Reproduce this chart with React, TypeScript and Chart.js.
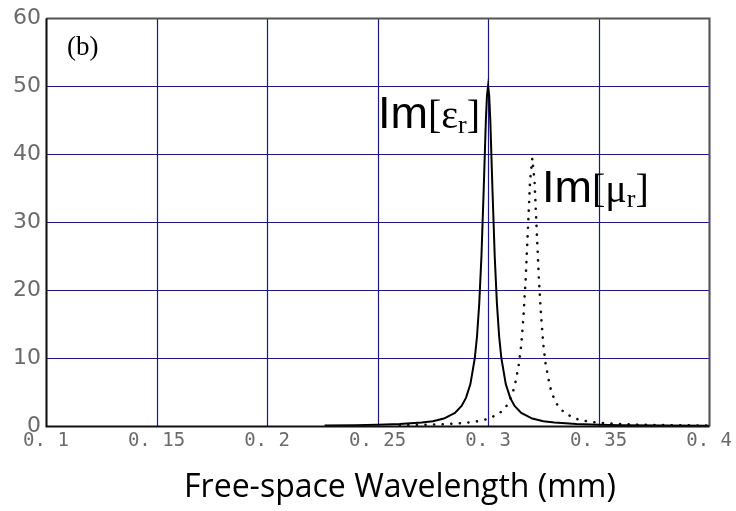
import React, { useEffect, useRef } from "react";
import { Chart, registerables } from "chart.js";

Chart.register(...registerables);

// Wavelength (mm) and Im[eps_r] for the solid curve
const epsX = [0.226, 0.24, 0.25, 0.26, 0.27, 0.275, 0.28, 0.285, 0.288, 0.29, 0.292, 0.294, 0.295, 0.296, 0.297, 0.298, 0.299, 0.2995, 0.3, 0.3005, 0.301, 0.302, 0.303, 0.304, 0.305, 0.306, 0.308, 0.31, 0.312, 0.315, 0.32, 0.325, 0.33, 0.34, 0.35, 0.36, 0.38, 0.4];
const epsY = [0.08, 0.125, 0.18, 0.28, 0.5, 0.71, 1.1, 1.92, 2.94, 4.13, 6.16, 10.0, 13.2, 18.0, 25.0, 34.6, 45.0, 48.6, 50.0, 48.6, 45.0, 34.6, 25.0, 18.0, 13.2, 10.0, 6.16, 4.13, 2.94, 1.92, 1.1, 0.71, 0.5, 0.28, 0.18, 0.125, 0.07, 0.045];

// Wavelength (mm) and Im[mu_r] for the dotted curve
const muX = [0.26, 0.27, 0.28, 0.29, 0.295, 0.3, 0.305, 0.308, 0.31, 0.312, 0.314, 0.315, 0.316, 0.317, 0.318, 0.319, 0.32, 0.321, 0.322, 0.323, 0.324, 0.325, 0.326, 0.328, 0.33, 0.332, 0.335, 0.34, 0.345, 0.35, 0.36, 0.37, 0.38, 0.39, 0.4];
const muY = [0.12, 0.17, 0.27, 0.47, 0.68, 1.04, 1.82, 2.77, 3.87, 5.78, 9.2, 11.95, 16.1, 21.6, 28.8, 36.1, 39.4, 36.1, 28.8, 21.6, 16.1, 11.95, 9.2, 5.78, 3.87, 2.77, 1.82, 1.04, 0.68, 0.47, 0.27, 0.17, 0.12, 0.09, 0.067];

const xTicks = [0.1, 0.15, 0.2, 0.25, 0.3, 0.35, 0.4];
const xTickLabels = ["0. 1", "0. 15", "0. 2", "0. 25", "0. 3", "0. 35", "0. 4"];
const yTicks = [0, 10, 20, 30, 40, 50, 60];

const panelLabel = "(b)";
const xTitle = "Free-space Wavelength (mm)";

export default function App() {
  const ref = useRef<HTMLCanvasElement | null>(null);

  useEffect(() => {
    const canvas = ref.current;
    if (!canvas) return;

    const drawRich = (
      ctx: CanvasRenderingContext2D,
      parts: { t: string; f: string; dy: number }[],
      x: number,
      y: number
    ) => {
      let cx = x;
      for (const p of parts) {
        ctx.font = p.f;
        ctx.fillText(p.t, cx, y + p.dy);
        cx += ctx.measureText(p.t).width;
      }
    };

    const gridPlugin = {
      id: "gridPlugin",
      beforeDatasetsDraw(chart: any) {
        const ctx = chart.ctx as CanvasRenderingContext2D;
        const { left, right, top, bottom } = chart.chartArea;
        const xs = chart.scales.x;
        const ys = chart.scales.y;
        ctx.save();
        ctx.strokeStyle = "#1a1a80";
        ctx.lineWidth = 1.2;
        ctx.beginPath();
        for (const v of xTicks) {
          const px = Math.round(xs.getPixelForValue(v)) + 0.5;
          ctx.moveTo(px, top);
          ctx.lineTo(px, bottom);
        }
        for (const v of yTicks) {
          const py = Math.round(ys.getPixelForValue(v)) + 0.5;
          ctx.moveTo(left, py);
          ctx.lineTo(right, py);
        }
        ctx.stroke();
        ctx.restore();
      },
    };

    const annot = {
      id: "annot",
      afterDraw(chart: any) {
        const ctx = chart.ctx as CanvasRenderingContext2D;
        const { left, right, top, bottom } = chart.chartArea;
        const xs = chart.scales.x;
        const ys = chart.scales.y;
        ctx.save();
        // frame
        const l = Math.round(left) + 0.5;
        const r = Math.round(right) + 0.5;
        const t = Math.round(top) + 0.5;
        const b = Math.round(bottom) + 0.5;
        ctx.lineWidth = 2;
        ctx.strokeStyle = "#555";
        ctx.beginPath();
        ctx.moveTo(l, t);
        ctx.lineTo(r, t);
        ctx.lineTo(r, b);
        ctx.stroke();
        ctx.strokeStyle = "#111";
        ctx.beginPath();
        ctx.moveTo(l, t);
        ctx.lineTo(l, b);
        ctx.lineTo(r, b);
        ctx.stroke();

        ctx.fillStyle = "#000";
        ctx.textBaseline = "alphabetic";
        ctx.textAlign = "left";
        // panel label
        ctx.font = "27px 'Liberation Serif'";
        ctx.fillText(panelLabel, xs.getPixelForValue(0.1095), ys.getPixelForValue(54.6));
        const serif = "'Liberation Serif'";
        const sans = "'Liberation Sans'";
        drawRich(
          ctx,
          [
            { t: "Im", f: `45px ${sans}`, dy: 0 },
            { t: "[", f: `40px ${serif}`, dy: 0 },
            { t: "ε", f: `40px ${serif}`, dy: 0 },
            { t: "r", f: `26px ${serif}`, dy: 5 },
            { t: "]", f: `40px ${serif}`, dy: 0 },
          ],
          xs.getPixelForValue(0.2502),
          ys.getPixelForValue(43.8)
        );
        drawRich(
          ctx,
          [
            { t: "Im", f: `45px ${sans}`, dy: 0 },
            { t: "[", f: `40px ${serif}`, dy: 0 },
            { t: "μ", f: `40px ${serif}`, dy: 0 },
            { t: "r", f: `26px ${serif}`, dy: 5 },
            { t: "]", f: `40px ${serif}`, dy: 0 },
          ],
          xs.getPixelForValue(0.3244),
          ys.getPixelForValue(32.9)
        );
        // x title
        ctx.textAlign = "center";
        ctx.font = "32px 'Open Sans'";
        ctx.fillText(xTitle, 400, 497);
        ctx.restore();
      },
    };

    const chart = new Chart(canvas, {
      type: "scatter",
      data: {
        datasets: [
          {
            data: epsX.map((x, i) => ({ x, y: epsY[i] })),
            showLine: true,
            borderColor: "#000",
            borderWidth: 2,
            pointRadius: 0,
            tension: 0,
          },
          {
            data: muX.map((x, i) => ({ x, y: muY[i] })),
            showLine: true,
            borderColor: "#111",
            borderWidth: 2.6,
            borderDash: [0.1, 8.5],
            borderCapStyle: "round",
            pointRadius: 0,
            tension: 0,
          },
        ],
      },
      plugins: [gridPlugin, annot],
      options: {
        animation: false,
        responsive: false,
        maintainAspectRatio: false,
        layout: { padding: { top: 16, right: 23, left: 0, bottom: 0 } },
        plugins: {
          legend: { display: false },
          tooltip: { enabled: false },
        },
        scales: {
          x: {
            type: "linear",
            min: 0.1,
            max: 0.4,
            afterFit: (s: any) => {
              s.height = 85;
            },
            afterBuildTicks: (s: any) => {
              s.ticks = xTicks.map((v) => ({ value: v }));
            },
            grid: { display: false, drawTicks: false },
            border: { display: false },
            ticks: {
              padding: 4,
              color: "#6a6a6a",
              font: { family: "'DejaVu Sans Mono'", size: 19 },
              maxRotation: 0,
              autoSkip: false,
              callback: (v: any) => {
                const i = xTicks.findIndex((t) => Math.abs(t - Number(v)) < 1e-9);
                return i >= 0 ? xTickLabels[i] : "";
              },
            },
          },
          y: {
            type: "linear",
            min: 0,
            max: 60,
            afterFit: (s: any) => {
              s.width = 46;
            },
            afterBuildTicks: (s: any) => {
              s.ticks = yTicks.map((v) => ({ value: v }));
            },
            grid: { display: false, drawTicks: false },
            border: { display: false },
            ticks: {
              padding: 5,
              color: "#6a6a6a",
              font: { family: "'DejaVu Sans'", size: 22 },
              autoSkip: false,
            },
          },
        },
      },
    } as any);

    return () => chart.destroy();
  }, []);

  return (
    <div style={{ position: "fixed", left: 0, top: 0, width: 736, height: 511, background: "#fff" }}>
      <canvas ref={ref} width={736} height={511} style={{ width: 736, height: 511 }} />
    </div>
  );
}
